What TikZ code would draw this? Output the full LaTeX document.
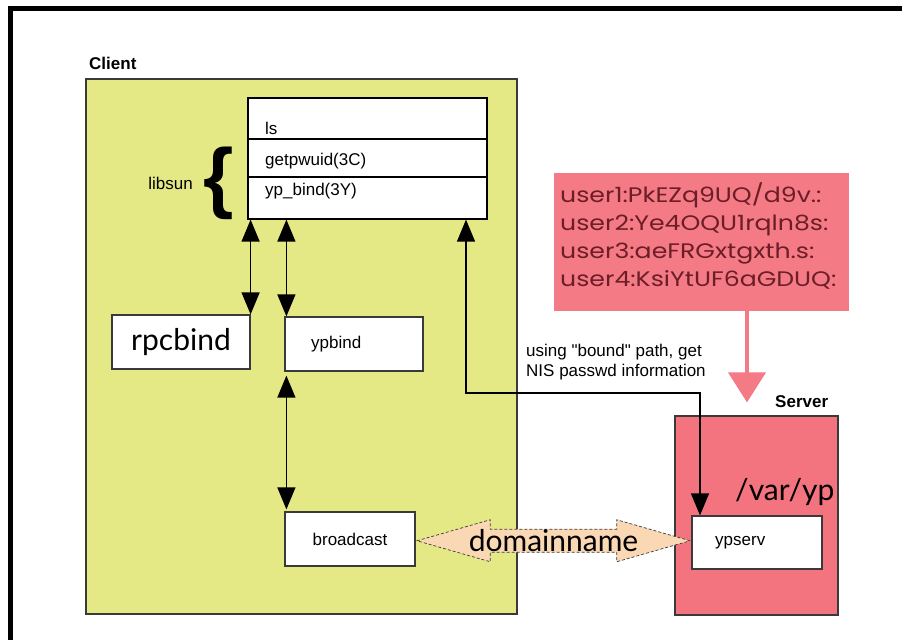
\documentclass[tikz,border=0pt]{standalone}
\usepackage{fontspec}
\setmainfont{Liberation Sans}[Ligatures=TeXOff]
\newfontfamily\bigfont{Lato}
\newfontfamily\pwfont{Poppins}[FakeStretch=1.2]
\usetikzlibrary{arrows.meta,shapes.arrows,calc}
\definecolor{clientyellow}{HTML}{E5E985}
\definecolor{serverpink}{HTML}{F3747F}
\definecolor{pwbox}{HTML}{F47A86}
\definecolor{pwtext}{HTML}{6B1E26}
\definecolor{peach}{HTML}{FAD8B4}
\definecolor{edgegray}{HTML}{3A3A3A}
\begin{document}
\begin{tikzpicture}[x=1pt,y=-1pt,
  box/.style={draw=edgegray, line width=1.2pt, inner sep=0pt},
  txt/.style={font=\fontsize{17}{20}\selectfont, inner sep=0pt},
  bigtxt/.style={font=\bigfont\fontsize{30}{30}\selectfont, inner sep=0pt},
  biarrow/.style={{Triangle[width=18pt,length=22pt]}-{Triangle[width=18pt,length=22pt]}, line width=1.3pt},
  pinkarrow/.style={-{Triangle[width=37pt,length=30pt]}, line width=4pt, draw=pwbox},
]
\useasboundingbox (0,0) rectangle (902,640);
\fill[white] (0,0) rectangle (902,640);
\draw[line width=5pt] (10.5,640) -- (10.5,8.5) -- (902,8.5);

% client
\node[box, fill=clientyellow, minimum width=431pt, minimum height=535pt] (client) at (301.5,346.5) {};
\node[txt, anchor=west, font=\fontsize{17}{20}\selectfont\bfseries] (clientlbl) at (89,63) {Client};

% stack
\node[box, draw=black, fill=white, minimum width=239pt, minimum height=121pt] (stack) at (367.5,158.5) {};
\draw[line width=1.2pt] (stack.west |- 0,139) -- (stack.east |- 0,139);
\draw[line width=1.2pt] (stack.west |- 0,177) -- (stack.east |- 0,177);
\node[txt, anchor=base west] (ls) at (265,134) {ls};
\node[txt, anchor=base west] (getpw) at (265,165) {getpwuid(3C)};
\node[txt, anchor=base west] (ypb) at (265,195) {yp\_bind(3Y)};
\node[inner sep=0pt, font=\fontsize{78}{78}\selectfont\bfseries] (brace) at (219,183) {\{};
\node[txt, anchor=east] (libsun) at (193,183) {libsun};

% daemons
\node[box, fill=white, minimum width=138pt, minimum height=54pt, bigtxt] (rpcbind) at (181,342) {rpcbind};
\node[box, fill=white, minimum width=138pt, minimum height=54pt] (ypbind) at (354,344) {};
\node[txt, anchor=west] (ypbindt) at (311,344) {ypbind};
\node[box, fill=white, minimum width=130pt, minimum height=54pt, txt] (broadcast) at (350,539) {broadcast};

% server
\node[box, fill=serverpink, minimum width=163pt, minimum height=199pt] (server) at (756.5,515.5) {};
\node[txt, anchor=west, font=\fontsize{17}{20}\selectfont\bfseries] (serverlbl) at (775,402) {Server};
\node[bigtxt, anchor=base west] (varyp) at (735,500) {/var/yp};
\node[box, fill=white, minimum width=130pt, minimum height=53pt] (ypserv) at (757,542.5) {};
\node[txt, anchor=west] (ypservt) at (715,543) {ypserv};

% password map
\node[fill=pwbox, minimum width=295pt, minimum height=138pt, inner sep=0pt] (pwbox) at (701.5,242) {};
\node[anchor=west, align=left, inner sep=0pt, text=pwtext, font=\pwfont\fontsize{21}{28.3}\selectfont] (pwtxt) at (560,236) {user1:PkEZq9UQ/d9v.:\\user2:Ye4OQU1rqln8s:\\user3:aeFRGxtgxth.s:\\user4:KsiYtUF6aGDUQ:};
\coordinate (pinktip) at ([xshift=-9.5pt,yshift=13pt]server.north);
\draw[pinkarrow] (pwbox.south -| pinktip) -- (pinktip);

% connectors
\coordinate (yb) at ([xshift=2pt]ypbind.north west);
\draw[biarrow] (stack.south -| rpcbind.east) -- (rpcbind.north east);
\draw[biarrow] (stack.south -| yb) -- (yb);
\draw[biarrow] ([yshift=-4pt]ypbind.south -| yb) -- ([yshift=2pt]broadcast.north -| yb);
\coordinate (bend) at (466,393);
\draw[biarrow] ([xshift=-57pt]ypserv.north) |- (bend) -- (stack.south -| bend);
\node[txt, anchor=west, align=left] (pathlbl) at (526,362) {using "bound" path, get\\NIS passwd information};

% domainname
\node[double arrow, draw=edgegray, dash pattern=on 3pt off 2pt, line width=0.7pt, fill=peach,
  double arrow tip angle=32, double arrow head extend=9.5pt,
  minimum height=273pt, inner xsep=0pt, inner ysep=3.7pt, bigtxt]
  (domain) at ($(broadcast.east)!0.5!(ypserv.west)$) {domainname};
\end{tikzpicture}
\end{document}
